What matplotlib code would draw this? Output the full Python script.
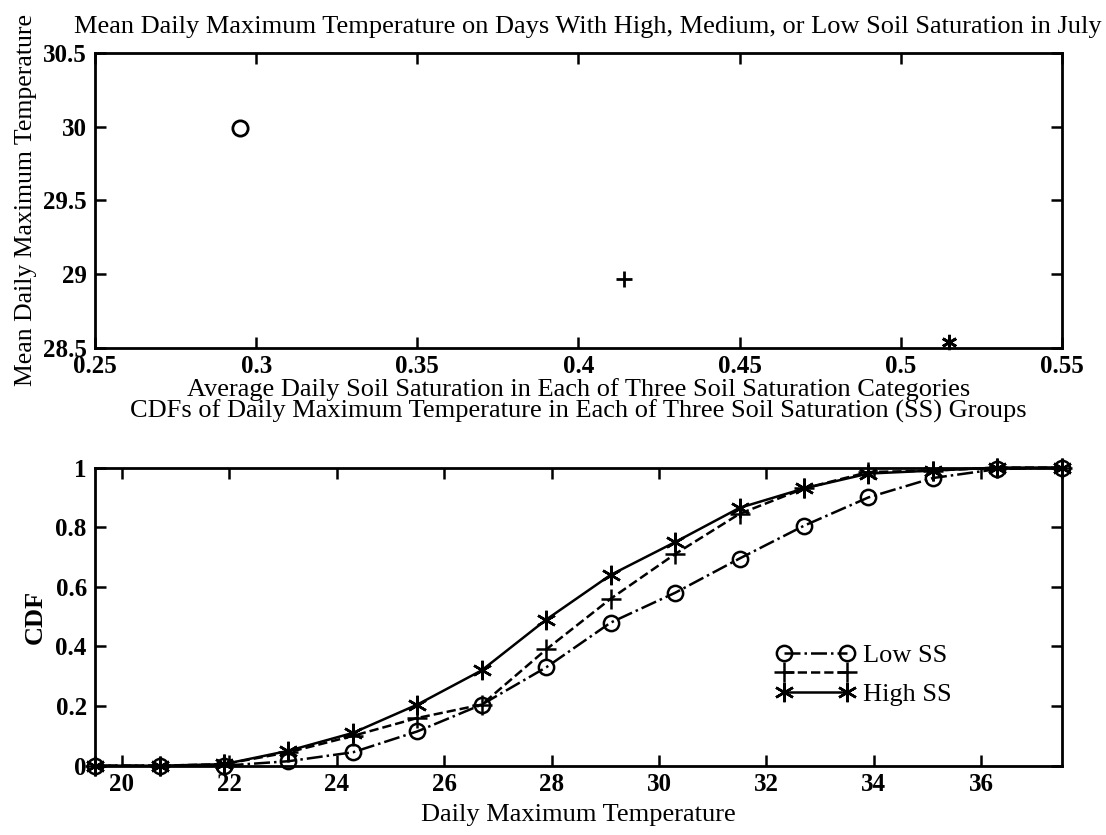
import numpy as np
import matplotlib
matplotlib.use('Agg')
import matplotlib.pyplot as plt

plt.rcParams['font.family'] = ['Liberation Serif', 'DejaVu Serif']

# top panel: mean soil saturation vs mean Tmax for the 3 groups
ss_mean = [0.295, 0.414, 0.515]
tmax_mean = [29.99, 28.97, 28.54]
top_markers = ['o', '+', (6, 2, 0)]

# bottom panel: CDFs
temp = [19.5, 20.7, 21.9, 23.1, 24.3, 25.5, 26.7, 27.9,
        29.1, 30.3, 31.5, 32.7, 33.9, 35.1, 36.3, 37.5]
cdf_low = [0, 0, 0, 0.015, 0.045, 0.115, 0.205, 0.33,
           0.48, 0.58, 0.695, 0.805, 0.90, 0.965, 0.995, 1.0]
cdf_med = [0, 0, 0.005, 0.045, 0.10, 0.16, 0.205, 0.39,
           0.56, 0.71, 0.845, 0.93, 0.985, 0.99, 1.0, 1.0]
cdf_high = [0, 0, 0.005, 0.05, 0.11, 0.205, 0.32, 0.49,
            0.64, 0.75, 0.865, 0.93, 0.98, 0.99, 1.0, 1.0]
labels = ['Low SS', '', 'High SS']

fs = 18
lfs = 19

def style(ax):
	ax.tick_params(direction='in', top=True, right=True, length=8, width=1.8,
	               labelsize=fs)
	ax.tick_params(axis='x', pad=5)
	ax.tick_params(axis='y', pad=6)
	for s in ax.spines.values():
		s.set_linewidth(2)
	for t in ax.get_xticklabels() + ax.get_yticklabels():
		t.set_fontweight('bold')

fig = plt.figure(figsize=(11.06, 8.35), dpi=100)

ax1 = fig.add_axes([0.086, 0.583, 0.874, 0.354])
for x, y, m in zip(ss_mean, tmax_mean, top_markers):
	ax1.plot(x, y, marker=m, color='k', mfc='none', ms=11, mew=2, ls='none',
	         clip_on=False)
ax1.set_xlim(0.25, 0.55)
ax1.set_ylim(28.5, 30.5)
ax1.set_xticks(np.arange(0.25, 0.551, 0.05))
ax1.set_xticklabels(['0.25', '0.3', '0.35', '0.4', '0.45', '0.5', '0.55'])
ax1.set_yticks([28.5, 29, 29.5, 30, 30.5])
ax1.set_yticklabels(['28.5', '29', '29.5', '30', '30.5'])
style(ax1)
ax1.set_title('Mean Daily Maximum Temperature on Days With High, Medium, or Low Soil Saturation in July',
              fontsize=lfs, pad=14, x=0.51)
ax1.set_xlabel('Average Daily Soil Saturation in Each of Three Soil Saturation Categories',
               fontsize=lfs, labelpad=0)
ax1.set_ylabel('Mean Daily Maximum Temperature', fontsize=18.5, labelpad=4)

ax2 = fig.add_axes([0.086, 0.083, 0.874, 0.357])
l1, = ax2.plot(temp, cdf_low, color='k', ls='-.', lw=1.8, marker='o', mfc='none',
               ms=11, mew=1.8, clip_on=False)
l2, = ax2.plot(temp, cdf_med, color='k', ls='--', lw=1.8, marker='+',
               ms=14, mew=1.8, clip_on=False)
l3, = ax2.plot(temp, cdf_high, color='k', ls='-', lw=1.8, marker=(6, 2, 0),
               ms=14, mew=1.8, clip_on=False)
ax2.set_xlim(min(temp), max(temp))
ax2.set_ylim(0, 1)
ax2.set_xticks(range(20, 37, 2))
ax2.set_yticks([0, 0.2, 0.4, 0.6, 0.8, 1])
ax2.set_yticklabels(['0', '0.2', '0.4', '0.6', '0.8', '1'])
style(ax2)
ax2.set_title('CDFs of Daily Maximum Temperature in Each of Three Soil Saturation (SS) Groups',
              fontsize=lfs, pad=36)
ax2.set_xlabel('Daily Maximum Temperature', fontsize=lfs, labelpad=6)
ax2.set_ylabel('CDF', fontsize=lfs, fontweight='bold', labelpad=6)
ax2.legend([l1, l2, l3], labels, loc='upper left', bbox_to_anchor=(0.68, 0.49),
           frameon=False, fontsize=lfs, handlelength=3.0, labelspacing=-0.15,
           handletextpad=0.3, numpoints=2)

fig.savefig('out.png', dpi=100)
